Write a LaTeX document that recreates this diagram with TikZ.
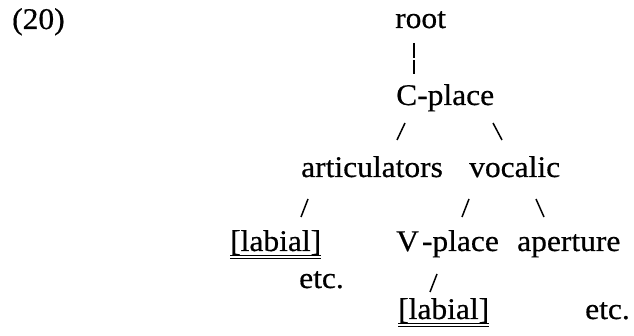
\documentclass[tikz,border=0pt]{standalone}
\usepackage{fontspec}
\setmainfont[FakeStretch=1.05,FakeBold=0.5]{Liberation Serif}

\begin{document}
\begin{tikzpicture}[x=1pt,y=-1pt,
    word/.style={anchor=base west,inner sep=0pt,font=\fontsize{30}{36}\selectfont},
    branch/.style={line width=1.5pt}]
    \useasboundingbox (0,0) rectangle (634,336);

    % 结点
    \foreach \name/\x/\y/\txt in {n20/12/29/{(20)},root/395/28/root,cplace/396/105/C-place,
        artic/301/177/articulators,vocalic/469/177/vocalic,
        labialA/230/251/{[labial]},vplace/396/251/{V\kern3pt-place},aperture/517/251/aperture,
        etcA/299/288/etc.,labialB/398/319/{[labial]},etcB/585/319/etc.} {
        \node[word] (\name) at (\x,\y) {\txt};
    }

    % 下划线
    \foreach \name in {labialA,labialB} {
        \draw[line width=1.8pt] ([yshift=-4.5pt]\name.base west) -- ([yshift=-4.5pt]\name.base east);
        \draw[line width=0.6pt] ([yshift=-7.5pt]\name.base west) -- ([yshift=-7.5pt]\name.base east);
    }

    % 竖线
    \coordinate (bart) at (414,43);
    \coordinate (barb) at (414,74);
    \draw[branch,dash pattern=on 15pt off 2pt on 40pt off 2pt] (bart) -- (barb);

    % 斜线
    \foreach \i/\xt/\yt/\xb/\yb in {1/405/123/397/140,2/493/123/502/140,
        3/308/199/301/217,4/469/199/462/217,5/536/199/544/217,6/437/274/430/292} {
        \coordinate (s\i t) at (\xt,\yt);
        \coordinate (s\i b) at (\xb,\yb);
        \draw[branch] (s\i t) -- (s\i b);
    }
\end{tikzpicture}
\end{document}
